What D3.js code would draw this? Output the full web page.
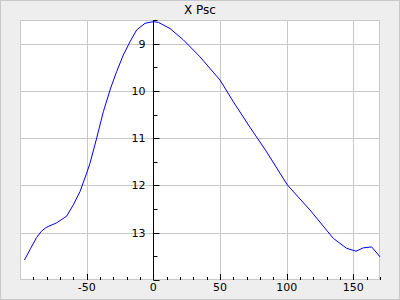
<!DOCTYPE html>
<html><head><meta charset="utf-8">
<script src="https://cdn.jsdelivr.net/npm/d3@7"></script>
<style>html,body{margin:0;padding:0;background:#fff}svg{display:block}</style>
</head><body>
<svg id="c" width="400" height="300"></svg>
<script>
const title = "X Psc";
const phase = [-96.7,-92,-87.5,-84,-80.5,-72.5,-65,-60,-55,-50,-47.5,-42.5,-37.5,-32,-27.5,-22.5,-17.5,-12.5,-6.25,0,3.75,12.5,22.5,35,50,60,72.5,85,100.5,117.5,135,145,152,157.5,163.75,170];
const mag = [13.58,13.33,13.10,12.97,12.89,12.79,12.65,12.41,12.13,11.74,11.53,11.0,10.44,9.94,9.59,9.24,8.96,8.71,8.57,8.535,8.55,8.68,8.92,9.28,9.77,10.23,10.77,11.29,11.99,12.52,13.12,13.33,13.39,13.32,13.30,13.51];
const xTicks = [-50,0,50,100,150];
const yTicks = [9,10,11,12,13];

const svg = d3.select("#c");
const W=400,H=300, L=20,R=380,T=20,B=280;
svg.append("rect").attr("x",0.5).attr("y",0.5).attr("width",W-1).attr("height",H-1)
  .attr("fill","#eeeeee").attr("stroke","#c8c8c8");
svg.append("rect").attr("x",L).attr("y",T).attr("width",R-L).attr("height",B-T).attr("fill","#fff");

const x = d3.scaleLinear().domain([-100,170]).range([L,R]);
const y = d3.scaleLinear().domain([8.5,14]).range([T,B]);

const grid = svg.append("g").attr("stroke","#c8c8c8").attr("stroke-width",1);
xTicks.forEach(t=>grid.append("line").attr("x1",Math.round(x(t))+0.5).attr("x2",Math.round(x(t))+0.5).attr("y1",T).attr("y2",B));
yTicks.forEach(t=>grid.append("line").attr("y1",Math.round(y(t))+0.5).attr("y2",Math.round(y(t))+0.5).attr("x1",L).attr("x2",R));
svg.append("rect").attr("x",L+0.5).attr("y",T+0.5).attr("width",R-L-1).attr("height",B-T-1)
  .attr("fill","none").attr("stroke","#c8c8c8");

// x ticks at bottom, pointing up
const xMinor = d3.range(-90,171,10);
const tk = svg.append("g").attr("stroke","#000");
xMinor.forEach(t=>{
  const major = xTicks.includes(t);
  const px = Math.round(x(t))+0.5;
  tk.append("line").attr("x1",px).attr("x2",px).attr("y1",B).attr("y2",B-(major?6:3));
});
// y axis at x=0
const ax = Math.round(x(0))+0.5;
tk.append("line").attr("x1",ax).attr("x2",ax).attr("y1",T).attr("y2",B);
d3.range(8.5,14.01,0.5).forEach(t=>{
  const major = Number.isInteger(t);
  const py = Math.round(y(t))+0.5;
  tk.append("line").attr("x1",ax).attr("x2",ax+(major?6:4)).attr("y1",py).attr("y2",py);
});

const font = "DejaVu Sans, sans-serif";
svg.selectAll("text.xl").data(xTicks).join("text").attr("class","xl")
  .attr("x",d=>x(d)).attr("y",291).attr("text-anchor","middle")
  .attr("font-family",font).attr("font-size",11).attr("fill","#000").text(d=>d);
svg.selectAll("text.yl").data(yTicks).join("text").attr("class","yl")
  .attr("x",ax-8).attr("y",d=>y(d)+4).attr("text-anchor","end")
  .attr("font-family",font).attr("font-size",11).attr("fill","#000").text(d=>d);
svg.append("text").attr("x",200).attr("y",14).attr("text-anchor","middle")
  .attr("font-family",font).attr("font-size",12).attr("fill","#000").text(title);

const line = d3.line().x((d,i)=>x(phase[i])).y((d,i)=>y(mag[i]));
svg.append("path").datum(mag).attr("d",line).attr("fill","none").attr("stroke","#0000ff").attr("stroke-width",1);
</script>
</body></html>
